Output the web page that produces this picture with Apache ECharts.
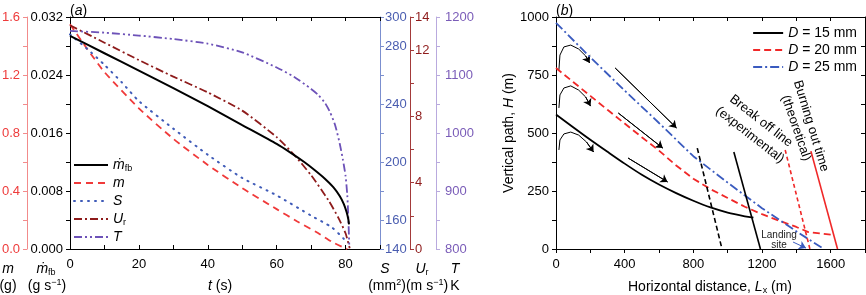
<!DOCTYPE html>
<html>
<head>
<meta charset="utf-8">
<script src="https://cdn.jsdelivr.net/npm/echarts@6/dist/echarts.min.js"></script>
<style>
  html, body { margin: 0; background: #fff; }
  #main { width: 866px; height: 295px; }
</style>
</head>
<body>
<div id="main"></div>
<script>
// ---- panel (a): time histories ----
const tMfb = [0, 10, 20, 30, 40, 50, 60, 64, 68, 71, 74, 76.5, 78.3, 79.5, 80.3, 80.8, 81]
const mfbVals = [0.0294, 0.0270, 0.0246, 0.0222, 0.0197, 0.0171, 0.0145, 0.0133, 0.0120, 0.0109, 0.0097, 0.0085, 0.0073, 0.0062, 0.0051, 0.0041, 0.0034]

const tMass = [0, 5, 10, 20, 30, 40, 50, 60, 66, 72, 76, 79, 80.5]
const massVals = [1.55, 1.38, 1.22, 0.97, 0.76, 0.58, 0.42, 0.275, 0.19, 0.11, 0.05, 0.015, 0]

const tArea = [0, 5, 10, 15, 20, 30, 40, 50, 60, 70, 76, 79.5]
const areaVals = [288, 278, 267, 255, 242, 223, 205, 189, 177, 163, 155, 147]

const tVel = [0, 10, 20, 30, 40, 50, 60, 65, 70, 75, 78, 80, 81.2]
const velVals = [13.5, 12.45, 11.4, 10.4, 9.45, 8.35, 6.75, 5.7, 4.45, 2.95, 1.85, 0.95, 0.05]

const tTemp = [0, 10, 20, 30, 40, 50, 60, 65, 70, 72, 74, 75.5, 77, 78.3, 79.2, 80, 80.5, 80.8, 81.1]
const tempVals = [1176, 1173, 1168, 1162, 1154, 1139, 1113, 1097, 1076, 1066, 1052, 1036, 1013, 982, 955, 926, 893, 855, 802]

// ---- panel (b): trajectories ----
const xD15 = [0, 100, 200, 300, 400, 500, 600, 700, 800, 900, 1000, 1100, 1150]
const hD15 = [580, 525, 471, 419, 368, 320, 278, 241, 208, 179, 157, 141, 135]
const xD20 = [0, 100, 200, 300, 400, 500, 600, 700, 800, 900, 1000, 1100, 1200, 1300, 1400, 1470, 1550, 1620]
const hD20 = [780, 720, 660, 600, 541, 482, 424, 360, 303, 258, 220, 182, 150, 122, 95, 73, 66, 60]
const xD25 = [0, 200, 400, 600, 800, 1000, 1200, 1400, 1560]
const hD25 = [975, 826, 683, 543, 400, 286, 176, 76, 0]

const breakExpX = [823, 967], breakExpH = [435, 0]
const breakExp2X = [1036, 1191], breakExp2H = [418, 0]
const burnThX = [1335, 1479], burnThH = [427, 0]
const burnTh2X = [1485, 1640], burnTh2H = [422, 0]

// direction-of-motion arrows (annotation paths, data units)
const hookPaths = [
  [[17, 772], [23, 836], [46, 871], [86, 879], [132, 862], [173, 832], [196, 802]],
  [[17, 608], [23, 664], [46, 694], [86, 703], [132, 685], [173, 655], [201, 616]],
  [[17, 427], [23, 470], [46, 496], [86, 504], [132, 491], [178, 461], [219, 418]]
]
const straightArrows = [
  [[345, 780], [702, 522]],
  [[363, 586], [622, 435]],
  [[420, 392], [650, 289]]
]
const landingArrow = [[1381, 30], [1456, 4]]

const FONT = 'Liberation Sans'
const zip = (xs, ys) => xs.map((x, i) => [x, ys[i]])

const sLabels = [300, 280, 240, 200, 160, 140]
const uLabels = [14, 12, 8, 4, 0]

function axisBase(color, lineColor) {
  return {
    axisLine: { show: true, onZero: false, lineStyle: { color: lineColor || color, width: 1 } },
    axisTick: { show: true, inside: false, length: 4, lineStyle: { color: lineColor || color } },
    axisLabel: { color: color, fontSize: 13, fontFamily: FONT },
    splitLine: { show: false }
  }
}

let chart = echarts.init(document.getElementById('main'), null, { renderer: 'canvas' })

const rich = {
  i: { fontStyle: 'italic', fontSize: 14, fontFamily: FONT, lineHeight: 16 },
  s: { fontSize: 9, fontFamily: FONT, lineHeight: 7, verticalAlign: 'bottom' },
  sup: { fontSize: 9, fontFamily: FONT, lineHeight: 7, verticalAlign: 'top' },
  n: { fontSize: 14, fontFamily: FONT, lineHeight: 16 }
}

// arrowheads: last segment of every arrow path
const heads = hookPaths.concat(straightArrows).map(p => ({ coords: p.slice(-2) }))

const smoothLine = { type: 'line', showSymbol: false, symbol: 'none', smooth: 0.2 }

let option = {
  animation: false,
  backgroundColor: '#fff',
  textStyle: { fontFamily: FONT },
  grid: [
    { left: 70, top: 17, width: 310, height: 232, outerBoundsMode: 'none', containLabel: false },
    { left: 556, top: 17, width: 309, height: 232, outerBoundsMode: 'none', containLabel: false }
  ],
  xAxis: [
    Object.assign(axisBase('#000'), {
      gridIndex: 0, type: 'value', position: 'bottom', min: 0, max: 90, interval: 10,
      axisTick: { inside: true, length: 4, lineStyle: { color: '#000' } },
      axisLabel: { fontSize: 13, color: '#000', fontFamily: FONT, margin: 9,
        formatter: v => (v % 20 === 0 && v <= 80 ? String(v) : '') }
    }),
    Object.assign(axisBase('#000'), {
      gridIndex: 0, type: 'value', position: 'top', min: 0, max: 90, interval: 10,
      axisTick: { inside: true, length: 4, lineStyle: { color: '#000' } },
      axisLabel: { show: false }
    }),
    Object.assign(axisBase('#000'), {
      gridIndex: 1, type: 'value', position: 'bottom', min: 0, max: 1800, interval: 200,
      axisLabel: { fontSize: 13, color: '#000', fontFamily: FONT, margin: 9,
        formatter: v => (v % 400 === 0 && v <= 1600 ? String(v) : '') }
    }),
    Object.assign(axisBase('#000'), {
      gridIndex: 1, type: 'value', position: 'top', min: 0, max: 1800, interval: 200,
      axisTick: { inside: true, length: 4, lineStyle: { color: '#000' } },
      axisLabel: { show: false }
    })
  ],
  yAxis: [
    Object.assign(axisBase('#000'), {
      gridIndex: 0, type: 'value', position: 'left', min: 0, max: 0.032, interval: 0.004,
      axisLabel: { fontSize: 13, color: '#000', fontFamily: FONT, margin: 7,
        formatter: v => (Math.round(v * 1000) % 8 === 0 ? v.toFixed(3) : '') }
    }),
    Object.assign(axisBase('#ee3b3b', '#f28b8b'), {
      gridIndex: 0, type: 'value', position: 'left', offset: 43, min: 0, max: 1.6, interval: 0.2,
      axisLabel: { fontSize: 13, color: '#ee3b3b', fontFamily: FONT, margin: 7,
        formatter: v => (Math.round(v * 10) % 4 === 0 ? v.toFixed(1) : '') }
    }),
    Object.assign(axisBase('#4a5db0', '#7b8fcf'), {
      gridIndex: 0, type: 'value', position: 'right', min: 140, max: 300, interval: 20,
      axisLabel: { fontSize: 13, color: '#4a5db0', fontFamily: FONT, margin: 5,
        formatter: v => (sLabels.indexOf(Math.round(v)) >= 0 ? String(Math.round(v)) : '') }
    }),
    Object.assign(axisBase('#8e1b1b', '#a33a3a'), {
      gridIndex: 0, type: 'value', position: 'right', offset: 30, min: 0, max: 14, interval: 2,
      axisLabel: { fontSize: 13, color: '#8e1b1b', fontFamily: FONT, margin: 5,
        formatter: v => (uLabels.indexOf(Math.round(v)) >= 0 ? String(Math.round(v)) : '') }
    }),
    Object.assign(axisBase('#7a5cb8', '#b9aade'), {
      gridIndex: 0, type: 'value', position: 'right', offset: 56, min: 800, max: 1200, interval: 50,
      axisLabel: { fontSize: 13, color: '#7a5cb8', fontFamily: FONT, margin: 9,
        formatter: v => (v % 100 === 0 ? String(v) : '') }
    }),
    Object.assign(axisBase('#000'), {
      gridIndex: 1, type: 'value', position: 'left', min: 0, max: 1000, interval: 125,
      axisLabel: { fontSize: 13, color: '#000', fontFamily: FONT, margin: 7,
        formatter: v => (v % 250 === 0 ? String(v) : '') },
      name: 'Vertical path, {i|H} (m)', nameLocation: 'middle', nameGap: 38, nameRotate: 90,
      nameTextStyle: { fontSize: 14, color: '#000', rich: rich }
    }),
    Object.assign(axisBase('#000'), {
      gridIndex: 1, type: 'value', position: 'right', min: 0, max: 1000, interval: 125,
      axisTick: { inside: true, length: 4, lineStyle: { color: '#000' } },
      axisLabel: { show: false }
    })
  ],
  legend: [
    {
      left: 73, top: 157, orient: 'vertical', padding: 0, itemGap: 2,
      itemWidth: 34, itemHeight: 14,
      itemStyle: { opacity: 0 },
      data: ['mfb', 'm', 'S', 'Ur', 'T'],
      formatter: name => ({ mfb: '{i|ṁ}{s|fb}', m: '{i|m}', S: '{i|S}', Ur: '{i|U}{s|r}', T: '{i|T}' })[name],
      textStyle: { fontSize: 14, lineHeight: 16, color: '#000', rich: rich }
    },
    {
      right: 9, top: 25, orient: 'vertical', padding: 0, itemGap: 1,
      itemWidth: 30, itemHeight: 14,
      itemStyle: { opacity: 0 },
      data: ['D15', 'D20', 'D25'],
      formatter: name => '{i|D}{n| = ' + name.slice(1) + ' mm}',
      textStyle: { fontSize: 14, lineHeight: 16, color: '#000', rich: rich }
    }
  ],
  graphic: [
    { type: 'text', x: 70, y: 3, style: { text: '({i|a})', rich: rich, fill: '#000', fontSize: 14, fontFamily: FONT } },
    { type: 'text', x: 556, y: 3, style: { text: '({i|b})', rich: rich, fill: '#000', fontSize: 14, fontFamily: FONT } },
    { type: 'text', x: 8, y: 261, style: { text: '{i|m}', rich: rich, align: 'center', fill: '#000' } },
    { type: 'text', x: 8, y: 278, style: { text: '{n|(g)}', rich: rich, align: 'center', fill: '#000' } },
    { type: 'text', x: 46, y: 261, style: { text: '{i|ṁ}{s|fb}', rich: rich, align: 'center', fill: '#000' } },
    { type: 'text', x: 47, y: 278, style: { text: '{n|(g s}{sup|−1}{n|)}', rich: rich, align: 'center', fill: '#000' } },
    { type: 'text', x: 220, y: 278, style: { text: '{i|t}{n| (s)}', rich: rich, align: 'center', fill: '#000' } },
    { type: 'text', x: 385, y: 261, style: { text: '{i|S}', rich: rich, align: 'center', fill: '#000' } },
    { type: 'text', x: 387, y: 278, style: { text: '{n|(mm}{sup|2}{n|)}', rich: rich, align: 'center', fill: '#000' } },
    { type: 'text', x: 422, y: 261, style: { text: '{i|U}{s|r}', rich: rich, align: 'center', fill: '#000' } },
    { type: 'text', x: 427, y: 278, style: { text: '{n|(m s}{sup|−1}{n|)}', rich: rich, align: 'center', fill: '#000' } },
    { type: 'text', x: 455, y: 261, style: { text: '{i|T}', rich: rich, align: 'center', fill: '#000' } },
    { type: 'text', x: 455, y: 278, style: { text: '{n|K}', rich: rich, align: 'center', fill: '#000' } },
    { type: 'text', x: 710, y: 279, style: { text: '{n|Horizontal distance, }{i|L}{s|x}{n| (m)}', rich: rich, align: 'center', fill: '#000' } },
    { type: 'text', x: 761, y: 121, rotation: -38 * Math.PI / 180,
      style: { text: 'Break off line', fontSize: 13, fontFamily: FONT, fill: '#000', align: 'center', verticalAlign: 'middle' } },
    { type: 'text', x: 750, y: 135, rotation: -38 * Math.PI / 180,
      style: { text: '(experimental)', fontSize: 13, fontFamily: FONT, fill: '#000', align: 'center', verticalAlign: 'middle' } },
    { type: 'text', x: 811, y: 126, rotation: -73 * Math.PI / 180,
      style: { text: 'Burning out time', fontSize: 13, fontFamily: FONT, fill: '#000', align: 'center', verticalAlign: 'middle' } },
    { type: 'text', x: 796, y: 128, rotation: -71 * Math.PI / 180,
      style: { text: '(theoretical)', fontSize: 13, fontFamily: FONT, fill: '#000', align: 'center', verticalAlign: 'middle' } },
    { type: 'text', x: 779, y: 235, style: { text: 'Landing', fontSize: 10, fontFamily: FONT, fill: '#222', align: 'center', verticalAlign: 'middle' } },
    { type: 'text', x: 779, y: 245, style: { text: 'site', fontSize: 10, fontFamily: FONT, fill: '#222', align: 'center', verticalAlign: 'middle' } }
  ],
  series: [
    Object.assign({}, smoothLine, { name: 'mfb', xAxisIndex: 0, yAxisIndex: 0, z: 5,
      data: zip(tMfb, mfbVals), lineStyle: { color: '#000', width: 2 }, itemStyle: { color: '#000' } }),
    Object.assign({}, smoothLine, { name: 'm', xAxisIndex: 0, yAxisIndex: 1,
      data: zip(tMass, massVals), lineStyle: { color: '#f03a3a', width: 1.8, type: [7, 5] }, itemStyle: { color: '#f03a3a' } }),
    Object.assign({}, smoothLine, { name: 'S', xAxisIndex: 0, yAxisIndex: 2,
      data: zip(tArea, areaVals), lineStyle: { color: '#3f5bb8', width: 2, type: [1, 6], cap: 'round' }, itemStyle: { color: '#3f5bb8' } }),
    Object.assign({}, smoothLine, { name: 'Ur', xAxisIndex: 0, yAxisIndex: 3,
      data: zip(tVel, velVals), lineStyle: { color: '#8e1b1b', width: 1.8, type: [8, 3, 2, 3] }, itemStyle: { color: '#8e1b1b' } }),
    Object.assign({}, smoothLine, { name: 'T', xAxisIndex: 0, yAxisIndex: 4,
      data: zip(tTemp, tempVals), lineStyle: { color: '#6d52b8', width: 1.8, type: [8, 3, 2, 3, 2, 3] }, itemStyle: { color: '#6d52b8' } }),

    Object.assign({}, smoothLine, { name: 'D15', xAxisIndex: 2, yAxisIndex: 5, smooth: 0.3,
      data: zip(xD15, hD15), lineStyle: { color: '#000', width: 1.8 }, itemStyle: { color: '#000' } }),
    { name: 'D20', type: 'line', xAxisIndex: 2, yAxisIndex: 5, showSymbol: false, symbol: 'none',
      data: zip(xD20, hD20), lineStyle: { color: '#f02828', width: 1.8, type: [7, 4] }, itemStyle: { color: '#f02828' } },
    { name: 'D25', type: 'line', xAxisIndex: 2, yAxisIndex: 5, showSymbol: false, symbol: 'none',
      data: zip(xD25, hD25), lineStyle: { color: '#3a5bbf', width: 1.8, type: [9, 3, 2, 3] }, itemStyle: { color: '#3a5bbf' } },

    { name: 'breakA', type: 'line', xAxisIndex: 2, yAxisIndex: 5, symbol: 'none',
      data: zip(breakExpX, breakExpH), lineStyle: { color: '#000', width: 1.6, type: [5, 3] } },
    { name: 'breakB', type: 'line', xAxisIndex: 2, yAxisIndex: 5, symbol: 'none',
      data: zip(breakExp2X, breakExp2H), lineStyle: { color: '#000', width: 1.6 } },
    { name: 'burnA', type: 'line', xAxisIndex: 2, yAxisIndex: 5, symbol: 'none',
      data: zip(burnThX, burnThH), lineStyle: { color: '#f02828', width: 1.6, type: [4, 3] } },
    { name: 'burnB', type: 'line', xAxisIndex: 2, yAxisIndex: 5, symbol: 'none',
      data: zip(burnTh2X, burnTh2H), lineStyle: { color: '#f02828', width: 1.6 } },

    { type: 'lines', coordinateSystem: 'cartesian2d', xAxisIndex: 2, yAxisIndex: 5, polyline: true,
      lineStyle: { color: '#000', width: 1, opacity: 1 },
      data: hookPaths.concat(straightArrows).map(p => ({ coords: p })) },
    { type: 'lines', coordinateSystem: 'cartesian2d', xAxisIndex: 2, yAxisIndex: 5,
      symbol: ['none', 'arrow'], symbolSize: 7,
      lineStyle: { color: '#000', width: 1, opacity: 1 },
      data: heads },
    { type: 'lines', coordinateSystem: 'cartesian2d', xAxisIndex: 2, yAxisIndex: 5,
      symbol: ['none', 'arrow'], symbolSize: 7,
      lineStyle: { color: '#3a5bbf', width: 1, opacity: 1 },
      data: [{ coords: landingArrow }] }
  ]
}
chart.setOption(option)
</script>
</body>
</html>
